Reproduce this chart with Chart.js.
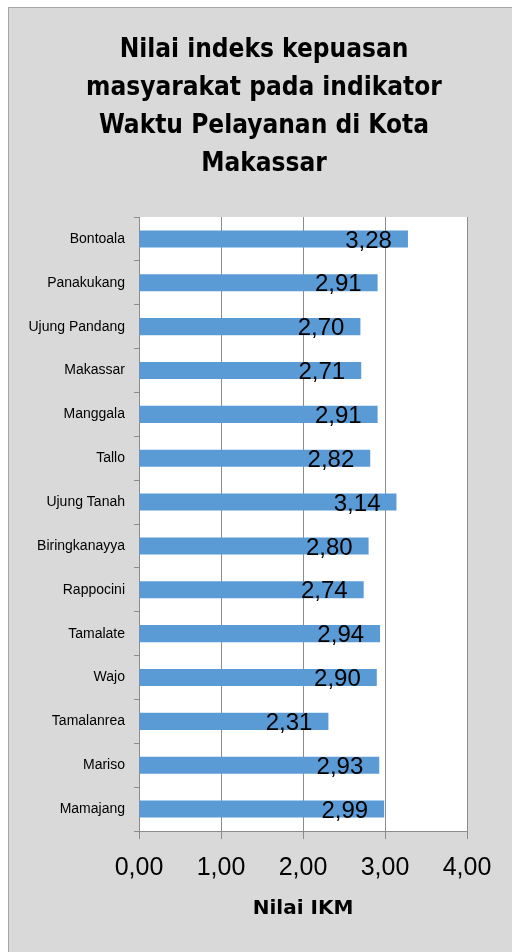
<!DOCTYPE html>
<html>
<head>
<meta charset="utf-8">
<script src="https://cdn.jsdelivr.net/npm/chart.js@4"></script>
<style>
  html, body { margin: 0; padding: 0; background: #fff; overflow: hidden; }
  #frame {
    position: absolute; left: 8px; top: 7px; width: 600px; height: 1000px;
    background: #d9d9d9; border: 1px solid #a6a6a6;
  }
  #myChart { position: absolute; left: 0; top: 0; }
</style>
</head>
<body>
<div id="frame"><canvas id="myChart" width="510" height="944"></canvas></div>
<script>
const kecamatan = ['Bontoala', 'Panakukang', 'Ujung Pandang', 'Makassar', 'Manggala', 'Tallo', 'Ujung Tanah',
  'Biringkanayya', 'Rappocini', 'Tamalate', 'Wajo', 'Tamalanrea', 'Mariso', 'Mamajang'];
const nilaiIKM = [3.28, 2.91, 2.70, 2.71, 2.91, 2.82, 3.14, 2.80, 2.74, 2.94, 2.90, 2.31, 2.93, 2.99];
const xTicks = [0, 1, 2, 3, 4];

const titleLines = ['Nilai indeks kepuasan', 'masyarakat pada indikator', 'Waktu Pelayanan di Kota', 'Makassar'];

const fmt = v => v.toFixed(2).replace('.', ',');

// white plot area on the grey chart background
const plotBackground = {
  id: 'plotBackground',
  beforeDraw(chart) {
    const { ctx, chartArea } = chart;
    ctx.save();
    ctx.fillStyle = '#fff';
    ctx.fillRect(chartArea.left, chartArea.top, chartArea.width, chartArea.height);
    ctx.restore();
  }
};

// labels at the inside end of each bar
const barLabels = {
  id: 'barLabels',
  afterDatasetsDraw(chart) {
    const ctx = chart.ctx;
    const meta = chart.getDatasetMeta(0);
    ctx.save();
    ctx.font = '24px "Liberation Sans", Arial, sans-serif';
    ctx.fillStyle = '#000';
    ctx.textAlign = 'right';
    ctx.textBaseline = 'middle';
    meta.data.forEach((bar, i) => {
      ctx.fillText(fmt(nilaiIKM[i]), bar.x - 16, bar.y + 2);
    });
    ctx.restore();
  }
};

const ctx = document.getElementById('myChart').getContext('2d');

const myChart = new Chart(ctx, {
  type: 'bar',
  data: {
    labels: kecamatan,
    datasets: [{
      label: 'Nilai IKM',
      data: nilaiIKM,
      backgroundColor: '#5b9bd5',
      borderWidth: 0,
      categoryPercentage: 1,
      barPercentage: 0.39
    }]
  },
  options: {
    indexAxis: 'y',
    responsive: false,
    devicePixelRatio: 1,
    animation: false,
    layout: { padding: 0 },
    plugins: {
      legend: { display: false },
      tooltip: { enabled: false },
      title: {
        display: true,
        text: titleLines,
        color: '#000',
        font: { family: '"DejaVu Sans Condensed", "DejaVu Sans", sans-serif', size: 26, weight: 'bold', lineHeight: '38px' },
        padding: { top: 23, bottom: 34 }
      }
    },
    scales: {
      x: {
        min: 0,
        max: 4,
        afterBuildTicks: scale => { scale.ticks = xTicks.map(v => ({ value: v })); },
        afterFit: scale => { scale.height = 121; },
        grid: { color: '#8c8c8c', tickLength: 8, drawTicks: true },
        border: { color: '#8c8c8c' },
        ticks: {
          color: '#000',
          padding: 14,
          font: { family: '"Liberation Sans", Arial, sans-serif', size: 25 },
          callback: v => fmt(v)
        },
        title: {
          display: true,
          text: 'Nilai IKM',
          color: '#000',
          font: { family: '"DejaVu Sans", sans-serif', size: 20, weight: 'bold' },
          padding: { top: 0, bottom: 31 }
        }
      },
      y: {
        afterFit: scale => { scale.width = 130; },
        grid: { drawOnChartArea: false, color: '#8c8c8c', tickLength: 5 },
        border: { color: '#8c8c8c' },
        ticks: {
          color: '#000',
          padding: 9,
          autoSkip: false,
          font: { family: '"Liberation Sans", Arial, sans-serif', size: 14 }
        }
      },
      // empty axis that keeps the grey margin on the right
      yRight: {
        type: 'category',
        position: 'right',
        afterFit: scale => { scale.width = 52; },
        grid: { display: false },
        border: { display: false },
        ticks: { display: false }
      }
    }
  },
  plugins: [plotBackground, barLabels]
});
</script>
</body>
</html>
